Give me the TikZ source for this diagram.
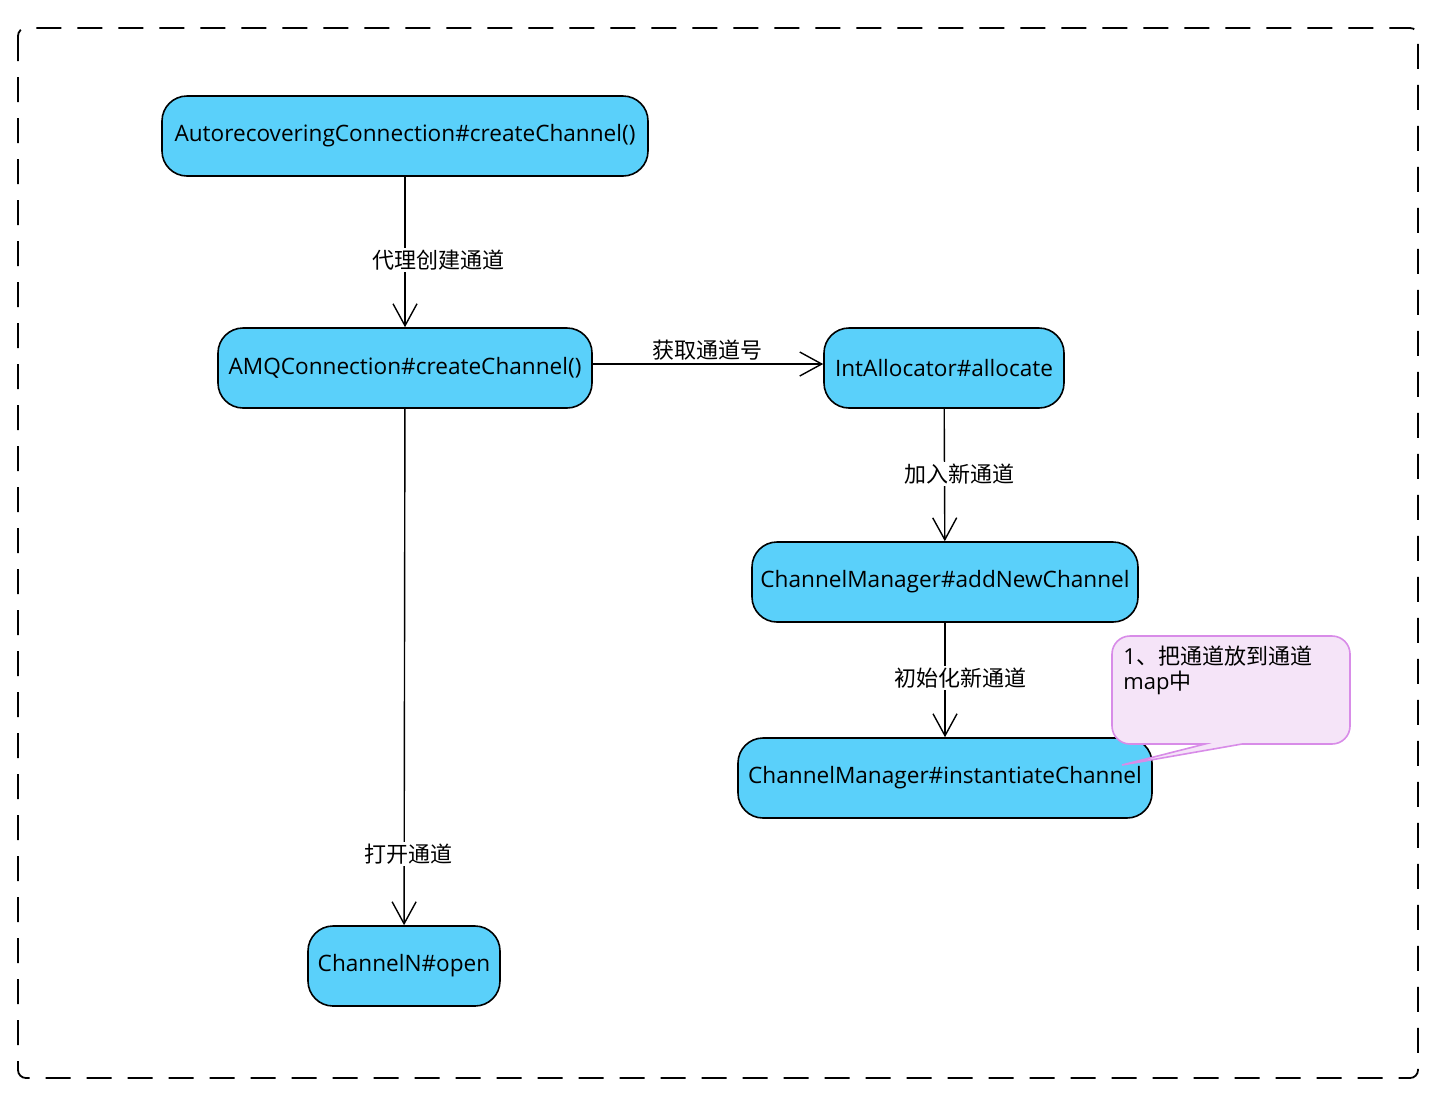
\documentclass[tikz,border=0pt]{standalone}
\usepackage{fontspec}
\setmainfont{Open Sans}
\newfontfamily\cjk{Noto Sans CJK SC}
\usetikzlibrary{arrows.meta}
\definecolor{actfill}{RGB}{90,208,250}
\definecolor{notefill}{RGB}{245,228,248}
\definecolor{noteline}{RGB}{216,140,232}

\begin{document}
\begin{tikzpicture}[x=0.5pt,y=-0.5pt,>={Straight Barb[length=11pt,width=12pt]},
  act/.style={draw,fill=actfill,line width=0.8pt,rounded corners=12.5pt,minimum height=40pt,inner xsep=4pt,font=\fontsize{11.3}{13}\selectfont},
  lbl/.style={fill=white,inner sep=1pt,font=\cjk\fontsize{11}{13}\selectfont},
  flow/.style={->,line width=0.7pt}]
\useasboundingbox (0,0) rectangle (1438,1104);
% frame
\draw[line width=0.9pt,dash pattern=on 12.5pt off 8pt,rounded corners=4pt] (18,28) rectangle (1418,1078);
% activities
\node[act,minimum width=243pt] (auto) at (405,136) {AutorecoveringConnection\#createChannel()};
\node[act,minimum width=187pt] (amq) at (405,368) {AMQConnection\#createChannel()};
\node[act,minimum width=120pt] (alloc) at (944,368) {IntAllocator\#allocate};
\node[act,minimum width=193pt] (addch) at (945,582) {ChannelManager\#addNewChannel};
\node[act,minimum width=207pt] (inst) at (945,778) {ChannelManager\#instantiateChannel};
\node[act,minimum width=96pt] (open) at (404,966) {ChannelN\#open};
% flows
\draw[flow] (auto) -- (amq);
\node[lbl] (l1) at (438,260) {代理创建通道};
\draw[flow] ([yshift=2pt]amq.east) -- ([yshift=2pt]alloc.west);
\node[lbl,fill=none] (l2) at (707,350) {获取通道号};
\draw[flow] (alloc) -- (addch);
\node[lbl] (l3) at (959,474) {加入新通道};
\draw[flow] (addch) -- (inst);
\node[lbl] (l4) at (960,678) {初始化新通道};
\draw[flow] (amq) -- (open);
\node[lbl] (l5) at (408,854) {打开通道};
% note
\draw[noteline,fill=notefill,line width=0.8pt] (1205,744) -- (1122,765) -- (1242,744)
  [rounded corners=9pt] -- (1350,744) -- (1350,636) -- (1112,636) -- (1112,744) [sharp corners] -- cycle;
\node[anchor=north west,align=left,inner sep=0pt,font=\fontsize{11}{12.5}\selectfont] (note) at (1123,646)
  {1{\cjk 、把通道放到通道}\\map{\cjk 中}};
\end{tikzpicture}
\end{document}
